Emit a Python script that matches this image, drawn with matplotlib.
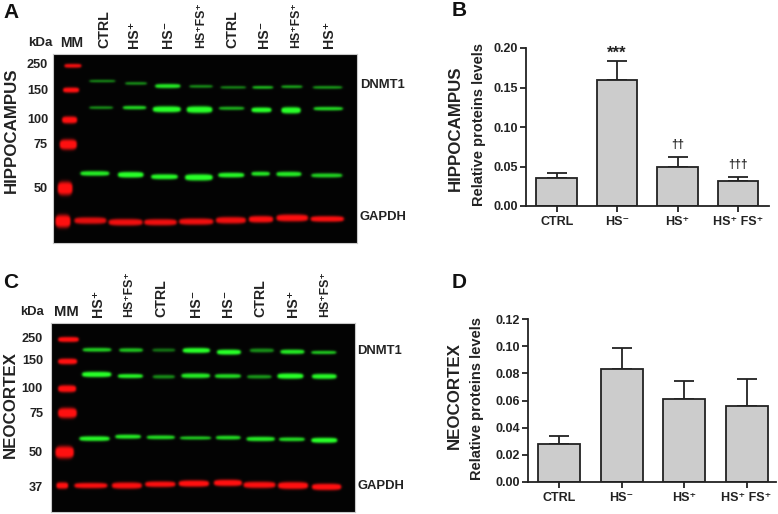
import numpy as np
import matplotlib
matplotlib.use('Agg')
import matplotlib.pyplot as plt

plt.rcParams['font.family'] = ['Liberation Sans', 'DejaVu Sans']
plt.rcParams['font.weight'] = 'bold'

W, H = 778, 514
DARK = '#222222'

# ── Bar data ──────────────────────────────────────────────────────────────────
GROUPS = ['CTRL', 'HS⁻', 'HS⁺', 'HS⁺ FS⁺']
HIPPO_VALS = [0.036, 0.159, 0.050, 0.032]
HIPPO_ERR = [0.006, 0.025, 0.012, 0.005]
HIPPO_MARKS = ['', '***', '††', '†††']
HIPPO_TICKS = [0.00, 0.05, 0.10, 0.15, 0.20]
NEO_VALS = [0.028, 0.083, 0.061, 0.056]
NEO_ERR = [0.006, 0.016, 0.013, 0.020]
NEO_TICKS = [0.00, 0.02, 0.04, 0.06, 0.08, 0.10, 0.12]

# ── Blot data: bands as (start, end, y, thickness, strength) ──────────────────
A_LANES = ['CTRL', 'HS⁺', 'HS⁻', 'HS⁺FS⁺', 'CTRL', 'HS⁻', 'HS⁺FS⁺', 'HS⁺']
C_LANES = ['HS⁺', 'HS⁺FS⁺', 'CTRL', 'HS⁻', 'HS⁻', 'CTRL', 'HS⁺', 'HS⁺FS⁺']
A_KDA = ['250', '150', '100', '75', '50']
C_KDA = ['250', '150', '100', '75', '50', '37']

A_GREEN = [
    (267, 345, 243, 5, .6), (375, 440, 250, 6, .6), (465, 541, 258, 11, .9), (568, 638, 259, 6, .6),
    (662, 738, 262, 5, .6), (758, 820, 262, 6, .8), (845, 908, 260, 6, .7), (940, 1028, 262, 6, .65),
    (267, 338, 323, 6, .6), (368, 438, 323, 9, .85), (458, 542, 328, 17, 1), (560, 637, 329, 19, 1),
    (657, 733, 325, 8, .7), (755, 815, 330, 14, 1), (845, 903, 331, 18, 1), (942, 1030, 326, 9, .85),
    (240, 327, 521, 13, .9), (353, 430, 525, 16, 1), (453, 533, 531, 14, .95), (555, 638, 533, 18, 1),
    (655, 733, 526, 13, .95), (755, 810, 522, 11, .9), (830, 905, 523, 13, .9), (935, 1028, 527, 11, .8),
]
A_RED = [
    (222, 318, 663, 19, .85), (325, 427, 668, 19, .9), (432, 530, 668, 18, .9), (537, 640, 666, 18, .9),
    (648, 738, 662, 19, .9), (747, 820, 659, 19, .95), (830, 925, 655, 20, .95), (933, 1033, 658, 16, .95),
    (192, 243, 197, 10, .95), (188, 236, 270, 14, 1), (185, 230, 360, 20, 1), (178, 229, 434, 30, 1),
    (172, 216, 566, 40, 1), (165, 210, 665, 38, 1),
]
C_GREEN = [
    (247, 333, 270, 10, .8), (357, 428, 271, 10, .75), (457, 525, 271, 8, .45), (548, 630, 272, 14, 1),
    (651, 723, 277, 14, 1), (750, 822, 272, 10, .55), (842, 914, 276, 12, .9), (935, 1010, 278, 8, .8),
    (245, 333, 344, 15, 1), (353, 428, 349, 11, .95), (458, 524, 351, 9, .55), (544, 630, 348, 13, .9),
    (645, 723, 349, 11, .85), (742, 815, 351, 9, .6), (833, 911, 349, 15, 1), (937, 1011, 350, 14, .95),
    (237, 328, 537, 13, .95), (345, 422, 531, 11, .9), (440, 524, 533, 10, .85), (540, 633, 535, 8, .8),
    (648, 722, 534, 10, .85), (740, 825, 538, 12, .9), (838, 915, 539, 10, .85), (935, 1013, 542, 14, 1),
]
C_RED = [
    (222, 321, 678, 15, .95), (335, 425, 678, 18, .95), (435, 526, 674, 16, .95), (536, 627, 672, 18, 1),
    (642, 726, 670, 18, 1), (731, 827, 676, 18, .95), (835, 925, 678, 20, 1), (937, 1025, 682, 18, 1),
    (173, 235, 239, 14, 1), (173, 230, 305, 16, 1), (173, 227, 387, 20, 1), (173, 229, 460, 30, 1),
    (165, 220, 578, 36, 1), (168, 203, 678, 18, 1),
]


def px_axes(fig, x0, y0, x1, y1):
    # pixel box, y measured from the top of the picture
    return fig.add_axes([x0 / W, 1 - y1 / H, (x1 - x0) / W, (y1 - y0) / H])


def px_text(fig, x, y, s, **kw):
    return fig.text(x / W, 1 - y / H, s, **kw)


def band_layer(xx, yy, bands):
    layer = np.zeros_like(xx)
    for start, end, yc, thick, strength in bands:
        xc, half = (start + end) / 2, (end - start) / 2
        u = np.clip(np.abs(xx - xc) / half, 0, 1.25)
        local = thick / 2 * np.sqrt(np.clip(1 - (u * 0.92) ** 4, 0.02, 1)) + 1.0
        fade = np.exp(-np.clip(u - 0.9, 0, None) ** 2 / 0.012)
        layer = np.maximum(layer, strength * fade * np.exp(-((yy - yc) / local) ** 4))
    return layer


def soften(layer, sigma=3.0):
    # the scan is a bit out of focus, sigma is in image cells
    k = np.exp(-np.arange(-9, 10) ** 2 / (2 * sigma ** 2))
    k /= k.sum()
    out = np.apply_along_axis(lambda c: np.convolve(c, k, mode='same'), 0, layer)
    return np.apply_along_axis(lambda c: np.convolve(c, k, mode='same'), 1, out)


def draw_blot(fig, box, xlim, ylim, green, red):
    ax = px_axes(fig, *box)
    xs = np.linspace(xlim[0], xlim[1], 1000)
    ys = np.linspace(ylim[0], ylim[1], 620)
    xx, yy = np.meshgrid(xs, ys)
    g = soften(band_layer(xx, yy, green))
    r = soften(band_layer(xx, yy, red))
    img = np.zeros(xx.shape + (3,))
    img[..., 0] = np.clip(r * 1.05 + 0.015 + g * 0.15, 0, 1)
    img[..., 1] = np.clip(g * 1.05 + 0.015 + r * 0.05, 0, 1)
    img[..., 2] = np.clip(g * 0.15 + r * 0.05 + 0.015, 0, 1)
    ax.imshow(img, extent=[xlim[0], xlim[1], ylim[1], ylim[0]], aspect='auto', interpolation='bilinear')
    ax.set_xticks([])
    ax.set_yticks([])
    for s in ax.spines.values():
        s.set_color('#c8c8c8')
        s.set_linewidth(0.8)
    return ax


def draw_bars(fig, box, vals, errs, yticks, top, xlim):
    ax = px_axes(fig, *box)
    x = np.arange(len(vals))
    ax.bar(x, vals, width=0.67, color='#cccccc', edgecolor=DARK, linewidth=1.3, zorder=2)
    ax.errorbar(x, vals, yerr=[np.zeros(len(errs)), errs], fmt='none', ecolor=DARK,
                elinewidth=1.3, capsize=7.2, capthick=1.3, zorder=1)
    ax.set_xlim(*xlim)
    ax.set_ylim(0, top)
    ax.set_xticks(x)
    ax.set_xticklabels(GROUPS, fontsize=9, fontweight='bold', color=DARK)
    ax.set_yticks(yticks)
    ax.set_yticklabels([f'{t:.2f}' for t in yticks], fontsize=9, fontweight='bold', color=DARK)
    ax.tick_params(axis='both', width=1.3, length=4.5, color=DARK)
    ax.tick_params(axis='x', pad=2.5)
    ax.tick_params(axis='y', pad=1.5)
    for side in ['top', 'right']:
        ax.spines[side].set_visible(False)
    for side in ['left', 'bottom']:
        ax.spines[side].set_linewidth(1.3)
        ax.spines[side].set_color(DARK)
    ax.patch.set_alpha(0)
    return ax


def lane_size(lab):
    # the double label has to fit above the blot
    return 8.8 if 'FS' in lab else 10.2


def main():
    fig = plt.figure(figsize=(W / 100, H / 100), dpi=100, facecolor='white')

    # Panel A
    draw_blot(fig, (53, 54, 357, 243), (158, 1072), (162, 730), A_GREEN, A_RED)
    for xp, lab in zip([104, 134, 168, 201, 232, 264, 296, 329], A_LANES):
        px_text(fig, xp, 48, lab, rotation=90, ha='center', va='bottom', fontsize=lane_size(lab), color=DARK)
    for yp, lab in zip([65, 91, 120, 145, 189], A_KDA):
        px_text(fig, 48, yp, lab, ha='right', va='center', fontsize=9.2, color=DARK)
    px_text(fig, 40, 43, 'kDa', ha='center', va='center', fontsize=9.6, color=DARK)
    px_text(fig, 72, 43, 'MM', ha='center', va='center', fontsize=10, color=DARK)
    px_text(fig, 11, 130, 'HIPPOCAMPUS', rotation=90, ha='center', va='center', fontsize=12.2, color=DARK)
    px_text(fig, 360, 85, 'DNMT1', ha='left', va='center', fontsize=9.4, color=DARK)
    px_text(fig, 360, 217, 'GAPDH', ha='left', va='center', fontsize=9.4, color=DARK)

    # Panel C
    draw_blot(fig, (51, 323, 355, 512), (152, 1066), (190, 757), C_GREEN, C_RED)
    for xp, lab in zip([98, 129, 161, 196, 228, 260, 293, 325], C_LANES):
        px_text(fig, xp, 317, lab, rotation=90, ha='center', va='bottom', fontsize=lane_size(lab), color=DARK)
    for yp, lab in zip([339, 361, 389, 414, 453, 488], C_KDA):
        px_text(fig, 43, yp, lab, ha='right', va='center', fontsize=9.2, color=DARK)
    px_text(fig, 32, 312, 'kDa', ha='center', va='center', fontsize=9.4, color=DARK)
    px_text(fig, 66, 312, 'MM', ha='center', va='center', fontsize=10.6, color=DARK)
    px_text(fig, 10, 405, 'NEOCORTEX', rotation=90, ha='center', va='center', fontsize=12.2, color=DARK)
    px_text(fig, 357, 351, 'DNMT1', ha='left', va='center', fontsize=9.4, color=DARK)
    px_text(fig, 357, 486, 'GAPDH', ha='left', va='center', fontsize=9.4, color=DARK)

    # Panel B
    ax_b = draw_bars(fig, (526, 48, 769, 206), HIPPO_VALS, HIPPO_ERR, HIPPO_TICKS, 0.20, (-0.507, 3.51))
    for i, m in enumerate(HIPPO_MARKS):
        if not m:
            continue
        size, off = (12, 0) if m == '***' else (8.5, 4)
        ax_b.annotate(m, (i, HIPPO_VALS[i] + HIPPO_ERR[i]), xytext=(0, off), textcoords='offset points',
                      ha='center', va='bottom', fontsize=size, fontweight='bold', color=DARK)
    px_text(fig, 479, 124, 'Relative proteins levels', rotation=90, ha='center', va='center', fontsize=10.5, color=DARK)
    px_text(fig, 455, 128, 'HIPPOCAMPUS', rotation=90, ha='center', va='center', fontsize=12.2, color=DARK)

    # Panel D
    draw_bars(fig, (528, 319, 776, 482), NEO_VALS, NEO_ERR, NEO_TICKS, 0.12, (-0.497, 3.47))
    px_text(fig, 477, 399, 'Relative proteins levels', rotation=90, ha='center', va='center', fontsize=10.5, color=DARK)
    px_text(fig, 454, 396, 'NEOCORTEX', rotation=90, ha='center', va='center', fontsize=12.2, color=DARK)

    # Panel letters
    for xp, yp, letter in [(11, 12, 'A'), (459, 11, 'B'), (11, 283, 'C'), (459, 283, 'D')]:
        px_text(fig, xp, yp, letter, ha='center', va='center', fontsize=15, color='#111111')

    fig.savefig('out.png', dpi=100, facecolor='white')


if __name__ == "__main__":
    main()
